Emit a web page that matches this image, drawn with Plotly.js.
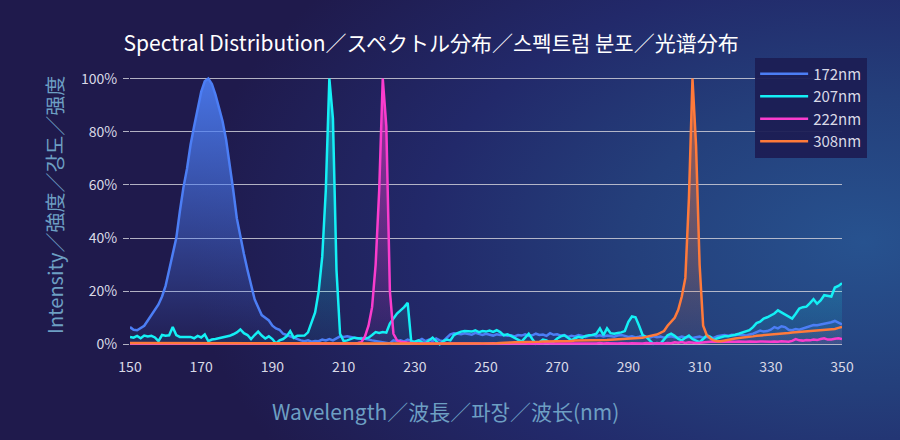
<!DOCTYPE html>
<html>
<head>
<meta charset="utf-8">
<script src="https://cdn.plot.ly/plotly-3.0.1.min.js"></script>
<style>
  html, body { margin: 0; padding: 0; }
  #wrap {
    width: 900px; height: 440px;
    background: radial-gradient(ellipse 75% 95% at 96% 55%, #27528f 0%, #243f7b 35%, #22296a 65%, #1f1a4c 100%);
  }
  #chart { width: 900px; height: 440px; }
</style>
</head>
<body>
<div id="wrap"><div id="chart"></div></div>
<script>
const wavelength = [
150,151,152,153,154,155,156,157,158,159,160,161,162,163,164,165,166,167,168,169,
170,171,172,173,174,175,176,177,178,179,180,181,182,183,184,185,186,187,188,189,
190,191,192,193,194,195,196,197,198,199,200,201,202,203,204,205,206,207,208,209,
210,211,212,213,214,215,216,217,218,219,220,221,222,223,224,225,226,227,228,229,
230,231,232,233,234,235,236,237,238,239,240,241,242,243,244,245,246,247,248,249,
250,251,252,253,254,255,256,257,258,259,260,261,262,263,264,265,266,267,268,269,
270,271,272,273,274,275,276,277,278,279,280,281,282,283,284,285,286,287,288,289,
290,291,292,293,294,295,296,297,298,299,300,301,302,303,304,305,306,307,308,309,
310,311,312,313,314,315,316,317,318,319,320,321,322,323,324,325,326,327,328,329,
330,331,332,333,334,335,336,337,338,339,340,341,342,343,344,345,346,347,348,349,
350];

const s172 = [
6.5,5.5,5.3,6,7,9,11,12.5,15,18,
22,28,34,40,50,59,66,75,82,88,
95,99,100,98,94,89,84,77,68,58,
47.5,40,34,28,22,17,14,11,10,9,
7,6,5.5,4,3.5,3,2.5,1.8,1.5,1.2,
1.5,1,1.3,1.2,1.8,1.5,2,1.5,2.3,3,
2.8,3,2.8,2.5,2.2,2.4,2,1.8,1.5,1.2,
1,0.8,0.4,0.3,1.5,1.2,1.5,1,1.8,1.2,
0.8,1.3,2,1.2,1.8,1.2,2.2,1.5,1.2,2.5,
3.8,4.2,4,3.8,4.2,4,3.6,4.3,3.8,3.5,
4,3.6,3.3,3.8,3.5,3.6,3.2,3.4,3,3.5,
3.3,3.8,3.2,3.4,4,3.5,3.7,3.2,4.2,3.6,
3.8,3.3,3.5,2.8,3.2,3,3.5,3.2,2.8,3.3,
3.6,3.1,3.4,3,3.3,3.1,2.9,3.3,3.5,3.2,
2.8,3,2.6,2.9,3.3,2.8,2.5,3,2.7,2.9,
2.5,2.8,3,2.7,2.5,2.9,2.6,2.8,2.4,2.7,
2.9,2.5,2.8,2.6,2.4,3.1,3.3,3.5,3.2,3.6,
3.4,3.7,3.5,3.3,3.7,4,4.6,5.2,4.8,5,
5.5,6.5,6,6.8,6.5,5.5,5.3,5.8,5.5,6,
6.5,7,7.3,7.2,7.5,7.6,8,8.3,8.8,8.2,
7.5];

const s207 = [
2.8,2.5,3.2,2.3,3.3,3,3.2,2.6,1.2,3.5,
3.2,3.4,6.5,3.5,2.8,2.8,2.8,2.8,2.3,3.2,
2.6,3.7,1.2,1.8,2,2.3,2.8,3,3.2,3.8,
4.5,5.6,4.2,3.5,2,3.5,4.8,3.3,2.2,3,
2,0.3,1.5,2,3,5,2.5,3.2,3.2,3.3,
4.5,8,12,20,33,58,100,85,28,4,
1.2,1.5,2,2.5,2.3,2.1,2.2,2.5,3.5,4.6,
4.3,4.6,4.4,7.8,9.7,11.6,12.8,14,15.6,1,
1,1.5,0.8,0.3,1.5,2.5,1.2,0,1.2,1.8,
1.5,3.5,4.2,4.8,5,5,4.8,5.3,4.6,5,
4.8,5.2,4.7,5.3,4.6,3.4,3.8,3.2,2.5,1.5,
1,2.5,4,2,0.2,0.8,1.8,1.5,0.5,1,
2.2,3,3.4,2.5,1.5,2.3,2.8,2.5,3.2,3.4,
3.5,4,6,3.5,6,4.2,4,4.3,4.5,5,
8.5,10.5,10.2,7,3.5,2.8,1.5,0.2,0.5,0.3,
1.8,3.4,4,3.2,2,1.5,2.5,3.3,2,1.5,
0.8,2,3.4,2.8,1.5,2.3,2.8,3,3,3.2,
3.6,4,4.4,4.8,5.3,6.5,8,8.5,9.7,10.2,
11,11.6,12.8,12,11,10.5,9.7,11.5,13.5,14,
14.2,15.5,17,15.3,16.5,18.5,18.3,18,21.4,22,
23];

const s222 = [
0.3,0.3,0.4,0.3,0.2,0.3,0.3,0.4,0.3,0.3,
0.3,0.2,0.3,0.3,0.4,0.3,0.3,0.2,0.3,0.3,
0.3,0.4,0.3,0.3,0.2,0.3,0.3,0.3,0.4,0.3,
0.3,0.3,0.2,0.3,0.3,0.4,0.3,0.3,0.3,0.2,
0.3,0.3,0.4,0.3,0.3,0.3,0.2,0.3,0.3,0.4,
0.3,0.3,0.3,0.2,0.3,0.3,0.4,0.3,0.3,0.3,
0.3,0.4,0.3,0.3,0.5,0.8,3,7,14,30,
58,100,82,20,4,1.5,1,0.8,0.5,0.4,
0.3,0.3,0.2,0.3,0.4,0.3,0.3,0.2,0.3,0.3,
0.3,0.4,0.3,0.3,0.5,0.3,0.3,0.4,0.3,0.2,
0.3,0.3,0.4,0.3,0.3,0.3,0.5,0.3,0.3,0.4,
0.3,0.3,0.2,0.3,0.4,0.3,0.3,0.5,0.3,0.3,
0.3,0.4,0.3,0.3,0.3,0.2,0.3,0.4,0.3,0.3,
0.3,0.3,0.5,0.3,0.4,0.3,0.3,0.3,0.4,0.3,
0.3,0.4,0.3,0.3,0.3,0.5,0.3,0.3,0.4,0.3,
0.3,0.5,0.4,0.8,0.6,0.9,0.5,0.8,0.6,0.5,
0.6,0.8,1,1,1.1,1,1,1.1,1,1,
1,1.1,1,1,1.1,1,1,1.1,1,1,
1,1.1,1,1.2,1.1,1,1.3,2,1.5,1.4,
1.6,1.5,1.8,1.6,2,2.3,1.8,1.8,2.1,2.3,
2];

const s308 = [
0.5,0.5,0.4,0.5,0.5,0.4,0.5,0.5,0.5,0.4,
0.5,0.5,0.4,0.5,0.5,0.5,0.4,0.5,0.5,0.4,
0.5,0.5,0.5,0.4,0.5,0.5,0.4,0.5,0.5,0.5,
0.4,0.5,0.5,0.4,0.5,0.5,0.5,0.4,0.5,0.5,
0.4,0.5,0.5,0.5,0.4,0.5,0.5,0.4,0.5,0.5,
0.4,0.4,0.4,0.4,0.4,0.4,0.4,0.4,0.4,0.4,
0.4,0.4,0.3,0.3,0.3,0.3,0.3,0.3,0.3,0.3,
0.3,0.3,0.3,0.3,0.3,0.3,0.3,0.3,0.3,0.3,
0.3,0.2,0.2,0.2,0.2,0.2,0.2,0.2,0.2,0.2,
0.2,0.2,0.2,0.2,0.2,0.2,0.2,0.2,0.2,0.2,
0.3,0.3,0.4,0.4,0.5,0.5,0.6,0.7,0.8,0.8,
0.8,0.9,0.9,1,1,1,1.1,1.1,1.1,1.2,
1.2,1.2,1.3,1.3,1.3,1.4,1.4,1.4,1.5,1.5,
1.5,1.5,1.6,1.6,1.6,1.7,1.8,1.8,1.9,2,
2,2.1,2.2,2.3,2.5,2.8,3.2,3.4,3.7,4.2,
5,7,8.5,10,13,18,25,55,100,75,
30,7,3.5,2.2,1.5,1.2,1.2,1.5,1.8,2,
2.2,2.4,2.5,2.7,2.8,3,3.2,3.3,3.5,3.6,
3.8,3.8,3.9,4,4.2,4.3,4.5,4.6,4.8,5,
5,5.1,5.2,5.3,5.3,5.5,5.5,5.6,5.8,6.2,
6.5];

const seriesNames = ['172nm', '207nm', '222nm', '308nm'];
const seriesValues = [s172, s207, s222, s308];
const seriesRGB = ['76,126,245', '20,240,245', '250,60,205', '255,122,58'];
const fillAlpha = [0.9, 0.55, 0.6, 0.6];

const tickVals = [0, 20, 40, 60, 80, 100];
const tickText = ['0%', '20%', '40%', '60%', '80%', '100%'];
const xTicks = [150, 170, 190, 210, 230, 250, 270, 290, 310, 330, 350];

const titleText = 'Spectral Distribution／スペクトル分布／스펙트럼 분포／光谱分布';
const xTitleText = 'Wavelength／波長／파장／波长(nm)';
const yTitleText = 'Intensity／強度／강도／强度';

const FONT = "'Noto Sans CJK JP', 'Noto Sans CJK KR', 'Noto Sans', sans-serif";

const traces = [];
seriesValues.forEach((vals, i) => {
  traces.push({
    x: wavelength, y: vals, type: 'scatter', mode: 'lines',
    line: { width: 0, color: 'rgba(' + seriesRGB[i] + ',0)' },
    fill: 'tozeroy',
    fillgradient: {
      type: 'vertical',
      colorscale: [[0, 'rgba(' + seriesRGB[i] + ',0.05)'], [1, 'rgba(' + seriesRGB[i] + ',' + fillAlpha[i] + ')']]
    },
    showlegend: false, hoverinfo: 'skip'
  });
});
seriesValues.forEach((vals, i) => {
  traces.push({
    x: wavelength, y: vals, type: 'scatter', mode: 'lines',
    name: seriesNames[i],
    line: { width: 2.5, color: 'rgb(' + seriesRGB[i] + ')' }
  });
});

const layout = {
  width: 900, height: 440,
  paper_bgcolor: 'rgba(0,0,0,0)',
  plot_bgcolor: 'rgba(0,0,0,0)',
  margin: { l: 130, r: 58, t: 76, b: 93 },
  font: { family: FONT, color: '#d9d9e6', size: 14 },
  title: {
    text: titleText,
    font: { family: FONT, size: 21, color: '#ffffff' },
    x: 0.479, xanchor: 'center', y: 0.9, yanchor: 'middle'
  },
  xaxis: {
    range: [150, 350],
    tickvals: xTicks,
    showgrid: false, zeroline: false, showline: false,
    ticks: '',
    ticklabelstandoff: 10,
    tickfont: { family: FONT, size: 14, color: '#d9d9e6' }
  },
  yaxis: {
    range: [-1, 101],
    tickvals: tickVals, ticktext: tickText,
    showgrid: true, gridcolor: 'rgba(205,205,215,0.85)', gridwidth: 1,
    zeroline: true, zerolinecolor: 'rgba(205,205,215,0.85)', zerolinewidth: 1,
    ticks: 'outside', ticklen: 6, tickcolor: 'rgba(205,205,215,0.85)',
    ticklabelstandoff: 3,
    tickfont: { family: FONT, size: 14, color: '#d9d9e6' }
  },
  legend: {
    x: 0.878, xanchor: 'left', y: 1.068, yanchor: 'top',
    bgcolor: 'rgba(28,30,84,0.95)',
    borderwidth: 0,
    itemwidth: 48,
    entrywidth: 62,
    font: { family: FONT, size: 15, color: '#d9d9e6' },
    tracegroupgap: 0
  },
  annotations: [
    {
      text: xTitleText, xref: 'paper', yref: 'paper',
      x: (445 - 130) / 712, y: (346.65 - 410) / 270.3,
      xanchor: 'center', yanchor: 'middle', showarrow: false,
      font: { family: FONT, size: 21, color: '#6d9fc3' }
    },
    {
      text: yTitleText, xref: 'paper', yref: 'paper',
      x: (55 - 130) / 712, y: (346.65 - 205) / 270.3,
      xanchor: 'center', yanchor: 'middle', showarrow: false, textangle: -90,
      font: { family: FONT, size: 20, color: '#6d9fc3' }
    }
  ],
  showlegend: true
};

Plotly.newPlot('chart', traces, layout, { displayModeBar: false, staticPlot: true });
</script>
</body>
</html>
